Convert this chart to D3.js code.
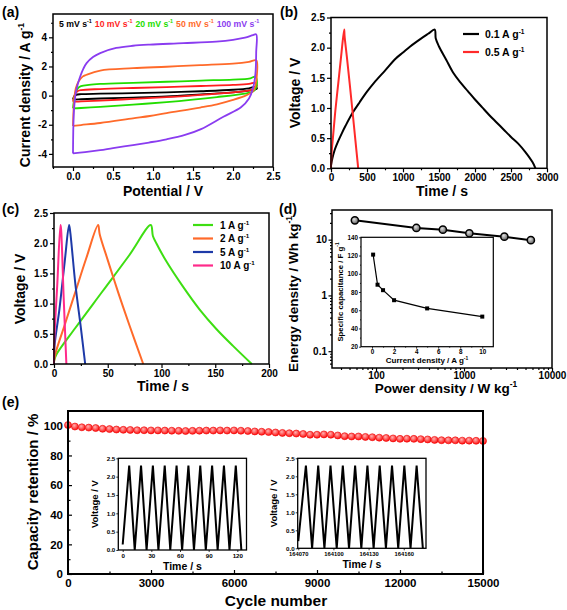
<!DOCTYPE html>
<html><head><meta charset="utf-8">
<script src="https://cdnjs.cloudflare.com/ajax/libs/d3/7.8.5/d3.min.js"></script>
<style>
body{margin:0;background:#fff}
svg{display:block}
text{font-family:"Liberation Sans",Arial,sans-serif;font-weight:bold;fill:#000}
</style>
</head><body>
<svg id="c" width="567" height="610"></svg>
<script>
// ---------------- DATA ----------------
// (a) CV loops: [potential V, current A g-1]
const cv5   = [[0,-0.27],[0.01,-0.1],[0.04,0.05],[0.1,0.1],[0.34,0.13],[0.75,0.17],[1.17,0.22],[1.6,0.3],[2.0,0.4],[2.2,0.5],[2.28,0.6],[2.3,0.5],[2.27,0.4],[2.2,0.34],[2.0,0.22],[1.6,0.08],[1.17,-0.06],[0.75,-0.14],[0.34,-0.2],[0.1,-0.25],[0,-0.27]];
const cv10  = [[0,-0.42],[0.01,-0.15],[0.03,0.15],[0.06,0.32],[0.1,0.38],[0.34,0.45],[0.75,0.52],[1.17,0.58],[1.6,0.66],[2.0,0.73],[2.2,0.8],[2.28,0.88],[2.3,0.7],[2.28,0.5],[2.22,0.38],[2.0,0.22],[1.6,0.05],[1.17,-0.11],[0.75,-0.23],[0.34,-0.34],[0.1,-0.4],[0,-0.42]];
const cv20  = [[0,-0.87],[0.01,-0.4],[0.03,0.2],[0.06,0.5],[0.1,0.65],[0.2,0.74],[0.34,0.8],[0.75,0.88],[1.17,0.95],[1.6,1.03],[2.0,1.1],[2.2,1.16],[2.28,1.3],[2.3,0.9],[2.28,0.45],[2.24,0.25],[2.17,0.16],[1.8,-0.1],[1.5,-0.28],[1.17,-0.45],[0.75,-0.62],[0.34,-0.78],[0.1,-0.85],[0,-0.87]];
const cv50  = [[0,-2.08],[0.005,-1.2],[0.015,-0.3],[0.035,0.5],[0.07,0.97],[0.12,1.3],[0.17,1.43],[0.34,1.72],[0.75,1.88],[1.17,1.98],[1.59,2.09],[2.0,2.2],[2.2,2.32],[2.29,2.42],[2.3,1.5],[2.28,0.7],[2.25,0.3],[2.17,0.03],[2.0,-0.3],[1.8,-0.6],[1.59,-0.82],[1.17,-1.2],[0.96,-1.4],[0.75,-1.56],[0.34,-1.88],[0.1,-2.02],[0,-2.08]];
const cv100 = [[0,-3.97],[0.005,-2.0],[0.015,-0.8],[0.035,0.2],[0.06,0.8],[0.09,1.31],[0.13,1.85],[0.17,2.23],[0.25,2.65],[0.34,2.92],[0.54,3.27],[0.75,3.42],[0.96,3.5],[1.38,3.6],[1.79,3.71],[2.0,3.83],[2.15,3.98],[2.25,4.15],[2.29,4.2],[2.29,3.0],[2.28,1.5],[2.25,0.5],[2.2,-0.2],[2.1,-0.8],[1.88,-1.45],[1.6,-2.3],[1.4,-2.7],[1.17,-3.0],[0.95,-3.22],[0.75,-3.4],[0.5,-3.6],[0.34,-3.74],[0.15,-3.88],[0,-3.97]];
const cvLabels = ["5 mV s","10 mV s","20 mV s","50 mV s","100 mV s"];

// (b) galvanostatic curves: [time s, voltage V]
const gcd01 = [[0,0.05],[20,0.17],[50,0.3],[100,0.45],[150,0.58],[200,0.7],[300,0.92],[400,1.1],[500,1.27],[600,1.42],[750,1.62],[900,1.82],[1000,1.92],[1100,2.02],[1250,2.15],[1350,2.23],[1440,2.3],[1455,2.15],[1500,2.02],[1600,1.8],[1700,1.58],[1800,1.42],[1900,1.28],[2000,1.14],[2100,1.01],[2200,0.88],[2300,0.76],[2400,0.64],[2500,0.52],[2600,0.41],[2700,0.27],[2800,0.1],[2840,0]];
const gcd05 = [[0,0],[8,0.25],[30,0.55],[60,0.95],[100,1.4],[140,1.85],[183,2.3],[188,2.2],[220,1.85],[260,1.4],[300,0.93],[340,0.45],[378,0]];
const bLabels = ["0.1 A g","0.5 A g"];

// (c)
const gcd1  = [[0,0.05],[2,0.15],[20,0.6],[45,1.2],[70,1.8],[90,2.3],[92,2.12],[95.2,2.0],[104.5,1.7],[120,1.28],[135.5,0.9],[151,0.58],[166.5,0.3],[184,0]];
const gcd2  = [[0,0.02],[1,0.15],[10,0.65],[20,1.2],[30,1.75],[41,2.3],[42.5,2.15],[50,1.72],[60,1.17],[70,0.65],[83,0]];
const gcd5  = [[0,0],[0.5,0.3],[5,0.9],[10,1.7],[14,2.3],[15,2.2],[20,1.3],[25,0.6],[29,0]];
const gcd10 = [[0,0],[0.3,0.4],[3,1.3],[6,2.3],[6.5,2.25],[9,1.1],[11.5,0]];
const cLabels = ["1 A g","2 A g","5 A g","10 A g"];

// (d) Ragone + inset
const powerDensity  = [57.5, 287.5, 575, 1150, 2875, 5750];
const energyDensity = [22.2, 16.2, 15.1, 13.0, 11.3, 9.8];
const currentDensity = [0.1, 0.5, 1, 2, 5, 10];
const specCap = [121, 88, 82, 71, 62, 53];

// (e) cycling
const cycles = [0,250,500,750,1000,1250,1500,1750,2000,2250,2500,2750,3000,3250,3500,3750,4000,4250,4500,4750,5000,5250,5500,5750,6000,6250,6500,6750,7000,7250,7500,7750,8000,8250,8500,8750,9000,9250,9500,9750,10000,10250,10500,10750,11000,11250,11500,11750,12000,12250,12500,12750,13000,13250,13500,13750,14000,14250,14500,14750,15000];
const retention = [100.5,99.5,99.0,98.8,98.5,98.0,97.8,97.5,97.3,97.2,97.0,97.0,96.9,96.9,96.8,96.7,96.6,96.5,96.6,96.7,96.8,96.8,96.9,96.8,96.9,96.7,96.5,96.2,96.0,95.8,95.5,95.2,95.0,94.8,94.5,94.0,94.0,94.2,94.0,93.5,93.0,92.8,92.8,92.5,92.3,92.0,91.8,91.5,91.2,91.3,91.2,91.0,90.8,90.5,90.3,90.2,90.2,90.0,90.0,89.9,89.8];
const ins1T = [0,6.8,12.6,19.2,25.0,31.6,37.4,44.0,49.8,56.4,62.2,68.8,74.6,81.2,87.0,93.6,99.4,106.0,111.8,118.4,124.2];
const ins1V = [0.15,2.3,0,2.3,0,2.3,0,2.3,0,2.3,0,2.3,0,2.3,0,2.3,0,2.3,0,2.3,0];
const ins2T = [164070,164076.5,164081.8,164087.0,164092.3,164097.5,164102.8,164108.0,164113.3,164118.5,164123.8,164129.0,164134.3,164139.5,164144.8,164150.0,164155.3,164160.5,164165.8,164171.0,164176.3];
const ins2V = [0.2,2.3,0,2.3,0,2.3,0,2.3,0,2.3,0,2.3,0,2.3,0,2.3,0,2.3,0,2.3,0];

// ---------------- HELPERS ----------------
const svg = d3.select("#c");
const defs = svg.append("defs");
const rg = defs.append("radialGradient").attr("id","redball").attr("cx","40%").attr("cy","35%").attr("r","65%");
rg.append("stop").attr("offset","0%").attr("stop-color","#ffb0b0");
rg.append("stop").attr("offset","100%").attr("stop-color","#ff1010");
const gg = defs.append("radialGradient").attr("id","grayball").attr("cx","40%").attr("cy","35%").attr("r","65%");
gg.append("stop").attr("offset","0%").attr("stop-color","#e0e0e0");
gg.append("stop").attr("offset","100%").attr("stop-color","#606060");

function rich(g, x, y, parts, fs, anchor, rotate, color){
  const t = g.append("text").attr("font-size", fs).attr("text-anchor", anchor||"start");
  if(rotate){ t.attr("transform", `translate(${x},${y}) rotate(-90)`); }
  else { t.attr("x", x).attr("y", y); }
  if(color) t.style("fill", color);
  let shift = 0;
  parts.forEach(p=>{
    const sup = p[0]==="^";
    const ts = t.append("tspan").text(sup ? p.slice(1) : p);
    if(sup){ ts.attr("font-size", fs*0.62).attr("dy", -fs*0.42); shift += fs*0.42; }
    else if(shift){ ts.attr("dy", shift); shift = 0; }
  });
  return t;
}

function axis(g, type, scale, tr, o){
  const gen = (type==="b" ? d3.axisBottom : d3.axisLeft)(scale)
    .tickValues(o.ticks).tickFormat(o.fmt).tickSizeInner(o.size).tickSizeOuter(0).tickPadding(o.pad==null?2:o.pad);
  const a = g.append("g").attr("transform", tr).call(gen);
  a.select(".domain").remove();
  a.selectAll("line").attr("stroke","#000").attr("stroke-width", o.sw||1.2);
  a.selectAll("text").attr("font-size", o.fs).attr("font-family", null).style("fill","#000");
  if(o.minor){
    const m = (type==="b" ? d3.axisBottom : d3.axisLeft)(scale).tickValues(o.minor).tickFormat("").tickSizeInner(o.msize).tickSizeOuter(0);
    const b = g.append("g").attr("transform", tr).call(m);
    b.select(".domain").remove();
    b.selectAll("line").attr("stroke","#000").attr("stroke-width", o.sw||1.2);
  }
  return a;
}
function frame(g, x0, y0, x1, y1, sw){
  g.append("rect").attr("x",x0).attr("y",y0).attr("width",x1-x0).attr("height",y1-y0)
   .attr("fill","none").attr("stroke","#000").attr("stroke-width", sw||1.5);
}
const f1 = d3.format(".1f");
const fi = d=>String(d);

// ---------------- (a) ----------------
{
  const g = svg.append("g");
  const X0=53,X1=273,Y0=14,Y1=167;
  const x = d3.scaleLinear([-0.25,2.5],[X0,X1]);
  const y = d3.scaleLinear([-4.9,5.6],[Y1,Y0]);
  const line = d3.line().x(d=>x(d[0])).y(d=>y(d[1])).curve(d3.curveCatmullRom.alpha(0.5));
  const series = [[cv5,"#000000"],[cv10,"#ff1e1e"],[cv20,"#22dd00"],[cv50,"#ff6a2a"],[cv100,"#8a3cf0"]];
  series.forEach(s=>g.append("path").attr("d", line(s[0])).attr("fill","none").attr("stroke", s[1]).attr("stroke-width",1.8));
  frame(g,X0,Y0,X1,Y1,1.5);
  axis(g,"b",x,`translate(0,${Y1})`,{ticks:[0,0.5,1,1.5,2,2.5],fmt:f1,size:4,fs:10,minor:[-0.25,0.25,0.75,1.25,1.75,2.25],msize:2});
  axis(g,"l",y,`translate(${X0},0)`,{ticks:[-4,-2,0,2,4],fmt:fi,size:4,fs:10,minor:[-3,-1,1,3,5],msize:2});
  let lx = 59;
  const cols = ["#000000","#ff1e1e","#22dd00","#ff6a2a","#8a3cf0"];
  cvLabels.forEach((l,i)=>{
    const t = rich(g, lx, 27, [l,"^-1"], 8.7, "start", false, cols[i]);
    lx += t.node().getBBox().width + 3;
  });
  rich(g, 30, 95, ["Current density / A g","^-1"], 14, "middle", true);
  rich(g, 163, 196, ["Potential / V"], 14, "middle");
  rich(g, 2, 17, ["(a)"], 14, "start");
}

// ---------------- (b) ----------------
{
  const g = svg.append("g");
  const X0=331,X1=547,Y0=17.5,Y1=168.3;
  const x = d3.scaleLinear([0,3000],[X0,X1]);
  const y = d3.scaleLinear([0,2.5],[Y1,Y0]);
  const line = d3.line().x(d=>x(d[0])).y(d=>y(d[1])).curve(d3.curveCatmullRom.alpha(0.5));
  g.append("path").attr("d", line(gcd01)).attr("fill","none").attr("stroke","#000").attr("stroke-width",2);
  g.append("path").attr("d", line(gcd05)).attr("fill","none").attr("stroke","#ff2a2a").attr("stroke-width",2);
  frame(g,X0,Y0,X1,Y1,1.5);
  axis(g,"b",x,`translate(0,${Y1})`,{ticks:[0,500,1000,1500,2000,2500,3000],fmt:fi,size:4,fs:10,minor:[250,750,1250,1750,2250,2750],msize:2});
  axis(g,"l",y,`translate(${X0},0)`,{ticks:[0,0.5,1,1.5,2,2.5],fmt:f1,size:4,fs:10,minor:[0.25,0.75,1.25,1.75,2.25],msize:2});
  [["#000",34],["#ff2a2a",52]].forEach((c,i)=>{
    g.append("line").attr("x1",463).attr("x2",479).attr("y1",c[1]).attr("y2",c[1]).attr("stroke",c[0]).attr("stroke-width",2.2);
    rich(g, 485, c[1]+4, [bLabels[i],"^-1"], 10.5, "start");
  });
  rich(g, 300, 93, ["Voltage / V"], 14, "middle", true);
  rich(g, 442, 196, ["Time / s"], 14, "middle");
  rich(g, 280, 17, ["(b)"], 14, "start");
}

// ---------------- (c) ----------------
{
  const g = svg.append("g");
  const X0=54,X1=269,Y0=213,Y1=364;
  const x = d3.scaleLinear([0,200],[X0,X1]);
  const y = d3.scaleLinear([0,2.5],[Y1,Y0]);
  const line = d3.line().x(d=>x(d[0])).y(d=>y(d[1])).curve(d3.curveCatmullRom.alpha(0.5));
  const cols = ["#3ede12","#ff6a2a","#1e3aa8","#ff2a8a"];
  [gcd1,gcd2,gcd5,gcd10].forEach((s,i)=>g.append("path").attr("d", line(s)).attr("fill","none").attr("stroke", cols[i]).attr("stroke-width",2));
  frame(g,X0,Y0,X1,Y1,1.5);
  axis(g,"b",x,`translate(0,${Y1})`,{ticks:[0,50,100,150,200],fmt:fi,size:4,fs:10,minor:[25,75,125,175],msize:2});
  axis(g,"l",y,`translate(${X0},0)`,{ticks:[0,0.5,1,1.5,2,2.5],fmt:f1,size:4,fs:10,minor:[0.25,0.75,1.25,1.75,2.25],msize:2});
  [225,238.5,252,265.5].forEach((yy,i)=>{
    g.append("line").attr("x1",193).attr("x2",213).attr("y1",yy).attr("y2",yy).attr("stroke",cols[i]).attr("stroke-width",2.2);
    rich(g, 220, yy+3.8, [cLabels[i],"^-1"], 10, "start");
  });
  rich(g, 25, 289, ["Voltage / V"], 14, "middle", true);
  rich(g, 163, 391, ["Time / s"], 14, "middle");
  rich(g, 2, 214, ["(c)"], 14, "start");
}

// ---------------- (d) ----------------
{
  const g = svg.append("g");
  const X0=332,X1=552,Y0=210,Y1=368;
  const x = d3.scaleLog([31.6,10000],[X0,X1]);
  const y = d3.scaleLog([0.05,34],[Y1,Y0]);
  frame(g,X0,Y0,X1,Y1,1.5);
  const pts = powerDensity.map((p,i)=>[p,energyDensity[i]]);
  g.append("path").attr("d", d3.line().x(d=>x(d[0])).y(d=>y(d[1]))(pts)).attr("fill","none").attr("stroke","#000").attr("stroke-width",2);
  g.selectAll("circle.r").data(pts).join("circle").attr("cx",d=>x(d[0])).attr("cy",d=>y(d[1])).attr("r",3.6)
    .attr("fill","url(#grayball)").attr("stroke","#000").attr("stroke-width",1.5);
  const xmin=[40,50,60,70,80,90,200,300,400,500,600,700,800,900,2000,3000,4000,5000,6000,7000,8000,9000];
  const ymin=[0.06,0.07,0.08,0.09,0.2,0.3,0.4,0.5,0.6,0.7,0.8,0.9,2,3,4,5,6,7,8,9,20,30];
  axis(g,"b",x,`translate(0,${Y1})`,{ticks:[100,1000,10000],fmt:fi,size:3.5,fs:10,pad:0.5,minor:xmin,msize:2});
  axis(g,"l",y,`translate(${X0},0)`,{ticks:[0.1,1,10],fmt:fi,size:3.5,fs:10,pad:1.5,minor:ymin,msize:2});
  // inset
  const IX0=361,IX1=493.3,IY0=237.3,IY1=346.7;
  g.append("rect").attr("x",IX0).attr("y",IY0).attr("width",IX1-IX0).attr("height",IY1-IY0).attr("fill","#fff");
  const ix = d3.scaleLinear([-1,11],[IX0,IX1]);
  const iy = d3.scaleLinear([20,140],[IY1,IY0]);
  const ipts = currentDensity.map((c,i)=>[c,specCap[i]]);
  g.append("path").attr("d", d3.line().x(d=>ix(d[0])).y(d=>iy(d[1]))(ipts)).attr("fill","none").attr("stroke","#000").attr("stroke-width",1.2);
  g.selectAll("rect.m").data(ipts).join("rect").attr("class","m").attr("x",d=>ix(d[0])-2).attr("y",d=>iy(d[1])-2).attr("width",4).attr("height",4).attr("fill","#000");
  frame(g,IX0,IY0,IX1,IY1,1.2);
  axis(g,"b",ix,`translate(0,${IY1})`,{ticks:[0,2,4,6,8,10],fmt:fi,size:2,fs:6.3,sw:0.8,pad:1,minor:[1,3,5,7,9],msize:1});
  axis(g,"l",iy,`translate(${IX0},0)`,{ticks:[20,40,60,80,100,120,140],fmt:fi,size:2,fs:6.3,sw:0.8,pad:1,minor:[30,50,70,90,110,130],msize:1});
  rich(g, 342.5, 292, ["Specific capacitance / F g","^-1"], 7.8, "middle", true);
  rich(g, 427, 363, ["Current density / A g","^-1"], 8, "middle");
  rich(g, 298, 294, ["Energy density / Wh kg","^-1"], 13.5, "middle", true);
  rich(g, 446, 393, ["Power density / W kg","^-1"], 13.5, "middle");
  rich(g, 279, 214, ["(d)"], 14, "start");
}

// ---------------- (e) ----------------
{
  const g = svg.append("g");
  const X0=68,X1=483,Y0=411,Y1=574;
  const x = d3.scaleLinear([0,15000],[X0,X1]);
  const y = d3.scaleLinear([0,110],[Y1,Y0]);
  axis(g,"b",x,`translate(0,${Y1})`,{ticks:[0,3000,6000,9000,12000,15000],fmt:fi,size:-4,fs:11.5,pad:5,minor:[1500,4500,7500,10500,13500],msize:-2.5});
  axis(g,"l",y,`translate(${X0},0)`,{ticks:[0,20,40,60,80,100],fmt:fi,size:-4,fs:11.5,pad:5,minor:[10,30,50,70,90],msize:-2.5});
  // insets
  function inset(T, V, dom, ticks, X0i, X1i, Y0i, Y1i, tfmt, xfs){
    const ix = d3.scaleLinear(dom,[X0i,X1i]);
    const iy = d3.scaleLinear([0,2.5],[Y1i,Y0i]);
    const pts = T.map((t,i)=>[t,V[i]]);
    g.append("path").attr("d", d3.line().x(d=>ix(d[0])).y(d=>iy(d[1]))(pts)).attr("fill","none").attr("stroke","#000").attr("stroke-width",2);
    frame(g,X0i,Y0i,X1i,Y1i,1.3);
    axis(g,"b",ix,`translate(0,${Y1i})`,{ticks:ticks,fmt:tfmt,size:2,fs:xfs,sw:0.8,pad:2});
    axis(g,"l",iy,`translate(${X0i},0)`,{ticks:[0,0.5,1,1.5,2,2.5],fmt:f1,size:2,fs:6.2,sw:0.8,pad:1});
    rich(g, X0i-20.5, (Y0i+Y1i)/2, ["Voltage / V"], 9.5, "middle", true);
    rich(g, (X0i+X1i)/2, Y1i+20, ["Time / s"], 10.5, "middle");
  }
  inset(ins1T, ins1V, [-4.6,129.6], [0,30,60,90,120], 118.3, 246.5, 458.3, 550, fi, 6.2);
  inset(ins2T, ins2V, [164069.5,164179], [164070,164100,164130,164160], 297.7, 426, 458.3, 548.3, fi, 5.8);
  // cycling data
  g.selectAll("circle.e").data(cycles).join("circle").attr("class","e")
    .attr("cx",(d)=>x(d)).attr("cy",(d,i)=>y(retention[i])).attr("r",3.5)
    .attr("fill","url(#redball)").attr("stroke","#ee0000").attr("stroke-width",0.6);
  frame(g,X0,Y0,X1,Y1,2);
  rich(g, 38, 492, ["Capacity retention / %"], 15, "middle", true);
  rich(g, 276, 606, ["Cycle number"], 15.5, "middle");
  rich(g, 2, 407, ["(e)"], 14, "start");
}
</script>
</body></html>
